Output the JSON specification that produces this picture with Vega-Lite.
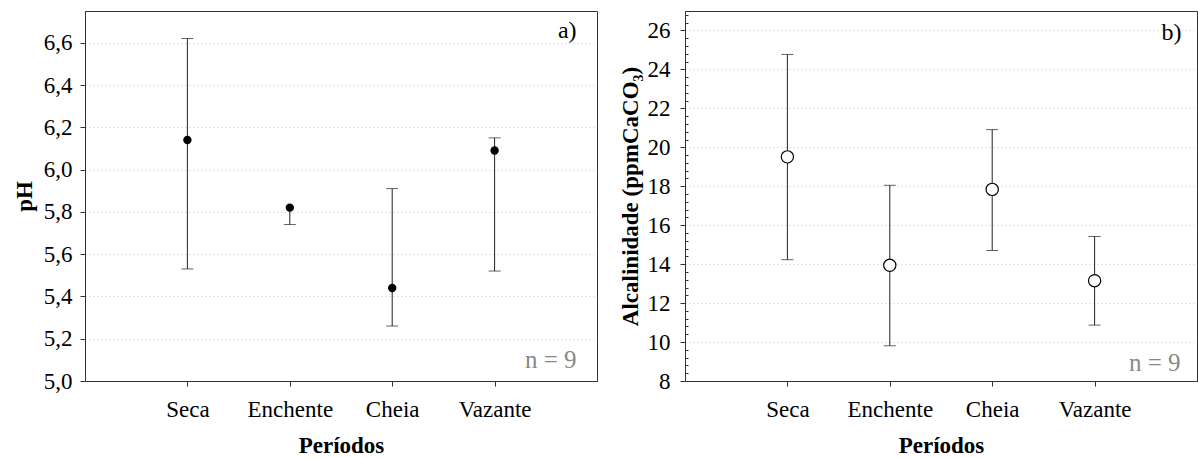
{
  "$schema": "https://vega.github.io/schema/vega-lite/v6.json",
  "padding": {"left": 12, "top": 10, "right": 0, "bottom": 0},
  "background": "white",
  "bounds": "flush",
  "spacing": 88,
  "datasets": {
    "ph": [
      {"periodo": "Seca", "mean": 6.14, "lo": 5.53, "hi": 6.62},
      {"periodo": "Enchente", "mean": 5.82, "lo": 5.74, "hi": 5.82},
      {"periodo": "Cheia", "mean": 5.44, "lo": 5.26, "hi": 5.91},
      {"periodo": "Vazante", "mean": 6.09, "lo": 5.52, "hi": 6.15}
    ],
    "alc": [
      {"periodo": "Seca", "mean": 19.51, "lo": 14.23, "hi": 24.77},
      {"periodo": "Enchente", "mean": 13.94, "lo": 9.81, "hi": 18.05},
      {"periodo": "Cheia", "mean": 17.84, "lo": 14.7, "hi": 20.91},
      {"periodo": "Vazante", "mean": 13.15, "lo": 10.87, "hi": 15.42}
    ]
  },
  "config": {
    "font": "Liberation Serif",
    "view": {"stroke": "#333", "strokeWidth": 1},
    "axis": {
      "labelFont": "Liberation Serif",
      "titleFont": "Liberation Serif",
      "labelFontSize": 23,
      "titleFontSize": 23,
      "titleFontWeight": "bold",
      "labelColor": "black",
      "titleColor": "black",
      "domainColor": "#333",
      "tickColor": "#333",
      "tickSize": 5
    },
    "axisY": {"gridColor": "#c8c8c8", "gridDash": [1, 3]}
  },
  "hconcat": [
    {
      "width": 512,
      "height": 370,
      "data": {"name": "ph"},
      "encoding": {
        "x": {
          "field": "periodo",
          "type": "ordinal",
          "sort": ["Seca", "Enchente", "Cheia", "Vazante"],
          "scale": {"type": "point", "padding": 1},
          "axis": {"title": "Períodos", "labelAngle": 0, "labelPadding": 12, "titlePadding": 13, "grid": false}
        }
      },
      "layer": [
        {
          "mark": {"type": "rule", "color": "#222", "strokeWidth": 1},
          "encoding": {
            "y": {
              "field": "lo", "type": "quantitative", "title": "pH",
              "scale": {"domain": [5, 6.75], "nice": false, "zero": false},
              "axis": {
                "values": [5, 5.2, 5.4, 5.6, 5.8, 6, 6.2, 6.4, 6.6],
                "labelExpr": "replace(format(datum.value, '.1f'), '.', ',')",
                "grid": true, "labelPadding": 8, "titlePadding": 7
              }
            },
            "y2": {"field": "hi"}
          }
        },
        {
          "mark": {"type": "tick", "color": "#222", "size": 12, "thickness": 1},
          "encoding": {"y": {"field": "lo", "type": "quantitative", "title": "pH"}}
        },
        {
          "transform": [{"filter": "datum.hi > datum.mean"}],
          "mark": {"type": "tick", "color": "#222", "size": 12, "thickness": 1},
          "encoding": {"y": {"field": "hi", "type": "quantitative", "title": "pH"}}
        },
        {
          "mark": {"type": "point", "filled": true, "color": "black", "size": 70, "opacity": 1},
          "encoding": {"y": {"field": "mean", "type": "quantitative", "title": "pH"}}
        },
        {
          "data": {"values": [{}]},
          "mark": {"type": "text", "align": "right", "baseline": "alphabetic", "dx": 82, "fontSize": 24, "color": "black", "font": "Liberation Serif"},
          "encoding": {"x": {"datum": "Vazante"}, "y": {"datum": 6.62}, "text": {"value": "a)"}}
        },
        {
          "data": {"values": [{}]},
          "mark": {"type": "text", "align": "right", "baseline": "alphabetic", "dx": 82, "fontSize": 25, "color": "#888888", "font": "Liberation Serif"},
          "encoding": {"x": {"datum": "Vazante"}, "y": {"datum": 5.06}, "text": {"value": "n = 9"}}
        }
      ]
    },
    {
      "width": 512,
      "height": 370,
      "data": {"name": "alc"},
      "resolve": {"axis": {"y": "independent"}},
      "encoding": {
        "x": {
          "field": "periodo",
          "type": "ordinal",
          "sort": ["Seca", "Enchente", "Cheia", "Vazante"],
          "scale": {"type": "point", "padding": 1},
          "axis": {"title": "Períodos", "labelAngle": 0, "labelPadding": 12, "titlePadding": 13, "grid": false}
        }
      },
      "layer": [
        {
          "mark": {"type": "rule", "color": "#222", "strokeWidth": 1},
          "encoding": {
            "y": {
              "field": "lo", "type": "quantitative", "title": "Alcalinidade (ppmCaCO₃)",
              "scale": {"domain": [8, 27], "nice": false, "zero": false},
              "axis": {
                "orient": "left",
                "values": [8, 10, 12, 14, 16, 18, 20, 22, 24, 26],
                "format": "d",
                "grid": true, "labelPadding": 10, "titlePadding": 5
              }
            },
            "y2": {"field": "hi"}
          }
        },
        {
          "mark": {"type": "tick", "color": "#222", "size": 12, "thickness": 1},
          "encoding": {"y": {"field": "lo", "type": "quantitative", "axis": null}}
        },
        {
          "mark": {"type": "tick", "color": "#222", "size": 12, "thickness": 1},
          "encoding": {"y": {"field": "hi", "type": "quantitative", "axis": null}}
        },
        {
          "mark": {"type": "point", "filled": true, "fill": "white", "stroke": "black", "strokeWidth": 1.2, "size": 150, "opacity": 1},
          "encoding": {
            "y": {
              "field": "mean", "type": "quantitative",
              "axis": {
                "orient": "left", "title": null, "labels": false, "domain": false, "grid": false,
                "tickSize": -3,
                "values": [8.4, 8.8, 9.2, 9.6, 10.4, 10.8, 11.2, 11.6, 12.4, 12.8, 13.2, 13.6, 14.4, 14.8, 15.2, 15.6, 16.4, 16.8, 17.2, 17.6, 18.4, 18.8, 19.2, 19.6, 20.4, 20.8, 21.2, 21.6, 22.4, 22.8, 23.2, 23.6, 24.4, 24.8, 25.2, 25.6, 26.4, 26.8]
              }
            }
          }
        },
        {
          "data": {"values": [{}]},
          "mark": {"type": "text", "align": "right", "baseline": "alphabetic", "dx": 87, "fontSize": 24, "color": "black", "font": "Liberation Serif"},
          "encoding": {"x": {"datum": "Vazante"}, "y": {"datum": 25.49, "axis": null}, "text": {"value": "b)"}}
        },
        {
          "data": {"values": [{}]},
          "mark": {"type": "text", "align": "right", "baseline": "alphabetic", "dx": 86, "fontSize": 25, "color": "#888888", "font": "Liberation Serif"},
          "encoding": {"x": {"datum": "Vazante"}, "y": {"datum": 8.51, "axis": null}, "text": {"value": "n = 9"}}
        }
      ]
    }
  ]
}
